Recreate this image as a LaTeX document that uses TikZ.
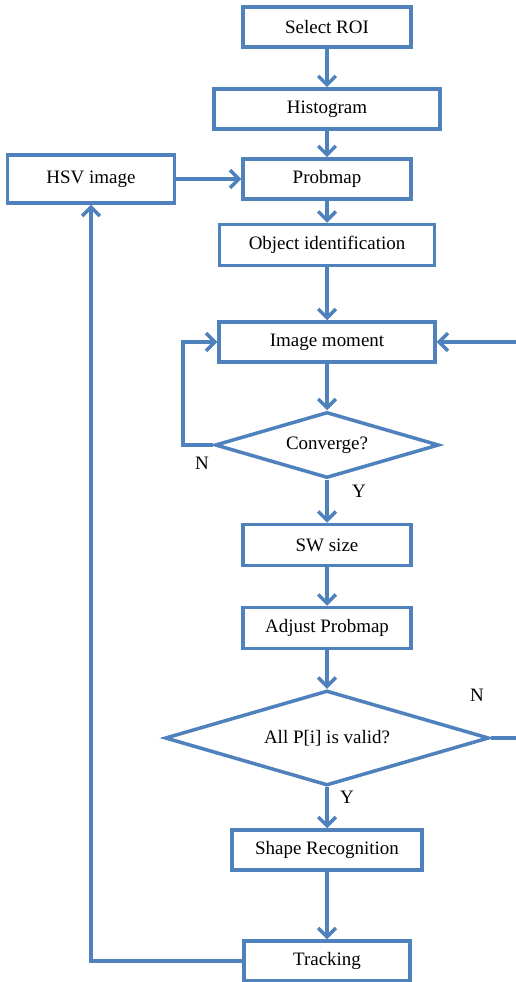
\documentclass[tikz,border=0pt]{standalone}
\usepackage{fontspec}
\setmainfont{Liberation Serif}
\usetikzlibrary{shapes.geometric,arrows.meta}
\definecolor{fblue}{HTML}{4F81BD}
\begin{document}
\begin{tikzpicture}[x=0.02cm,y=-0.02cm,
  line width=2pt,
  every node/.style={font=\fontsize{10.8}{12}\selectfont},
  box/.style={draw=fblue, line width=2pt, rectangle, inner sep=0pt},
  dia/.style={draw=fblue, line width=2pt, diamond, aspect=3.4, inner sep=0pt},
  lbl/.style={inner sep=0pt},
  conn/.style={draw=fblue, line width=2pt, -{Straight Barb[length=5pt,width=10pt]}},
  plain/.style={draw=fblue, line width=2pt}]
\useasboundingbox (0,0) rectangle (515,982);
\node[box, minimum width=3.36cm, minimum height=0.8cm] (sel) at (327,27) {Select ROI};
\node[box, minimum width=4.52cm, minimum height=0.8cm] (hist) at (327,109) {Histogram};
\node[box, minimum width=3.36cm, minimum height=0.8cm] (prob) at (327,179) {Probmap};
\node[box, minimum width=3.34cm, minimum height=0.96cm] (hsv) at (91,179) {HSV image};
\node[box, minimum width=4.3cm, minimum height=0.82cm] (obj) at (327,245) {Object identification};
\node[box, minimum width=4.32cm, minimum height=0.8cm] (im) at (327,342) {Image moment};
\node[dia, minimum width=4.48cm, minimum height=1.32cm] (conv) at (327,445) {Converge?};
\node[box, minimum width=3.36cm, minimum height=0.82cm] (sw) at (327,545) {SW size};
\node[box, minimum width=3.36cm, minimum height=0.82cm] (adj) at (327,628) {Adjust Probmap};
\node[dia, minimum width=6.48cm, minimum height=1.9cm] (allp) at (327,738) {All P[i] is valid?};
\node[box, minimum width=3.8cm, minimum height=0.8cm] (shape) at (327,850) {Shape Recognition};
\node[box, minimum width=3.32cm, minimum height=0.8cm] (track) at (327,961) {Tracking};
\node[lbl] (n1) at (202,463) {N};
\node[lbl] (y1) at (359,491) {Y};
\node[lbl] (n2) at (477,695) {N};
\node[lbl] (y2) at (347,797) {Y};
\coordinate (lx) at (183,445);
\coordinate (rx) at (520,738);
\draw[conn] (sel) -- (hist);
\draw[conn] (hist) -- (prob);
\draw[conn] (prob) -- (obj);
\draw[conn] (obj) -- (im);
\draw[conn] (im) -- (conv);
\draw[conn] (conv) -- (sw);
\draw[conn] (sw) -- (adj);
\draw[conn] (adj) -- (allp);
\draw[conn] (allp) -- (shape);
\draw[conn] (shape) -- (track);
\draw[conn] (hsv) -- (prob);
\draw[conn] (conv.west) -- (lx) |- (im.west);
\draw[conn] (allp.east) -- (rx) |- (im.east);
\draw[conn] (track.west) -| (hsv.south);
\end{tikzpicture}
\end{document}
